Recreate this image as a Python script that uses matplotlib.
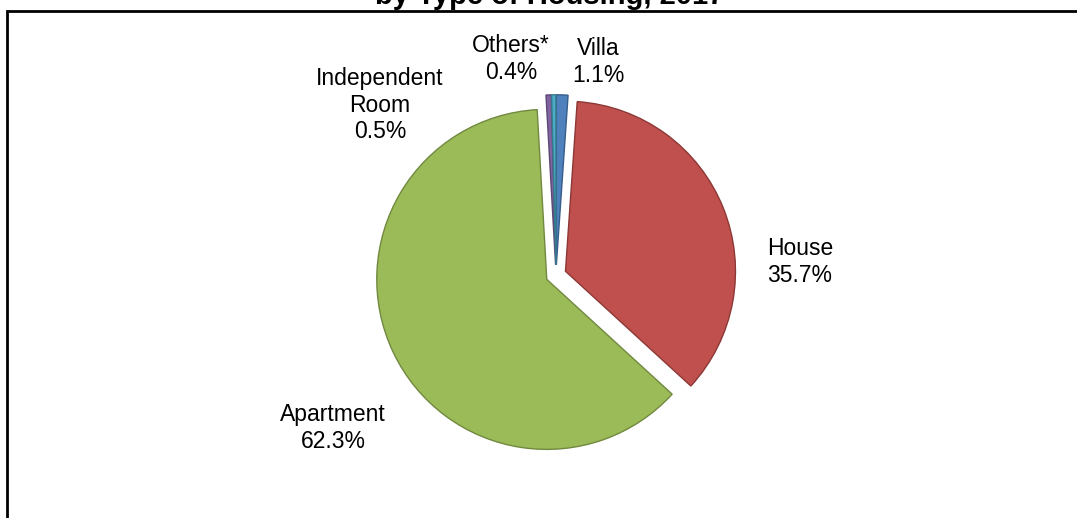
import matplotlib
matplotlib.use('Agg')
import matplotlib.pyplot as plt
from matplotlib.patches import Rectangle

plt.rcParams['font.family'] = ['Liberation Sans', 'DejaVu Sans']

# data, clockwise from 12 o'clock like the Excel original
housing = ['Villa', 'House', 'Apartment', 'Independent\nRoom', 'Others*']
share = [1.1, 35.7, 62.3, 0.5, 0.4]

colors = ['#4F81BD', '#C0504D', '#9BBB59', '#8064A2', '#4BACC6']
edges = ['#385D8A', '#8C3836', '#71893F', '#5C4776', '#357D91']

# label centres in pixels (from top-left), layout only
label_pos = [(598, 62), (800, 262), (333, 428), (380, 105), (511, 59)]

W, H = 1077, 518
fig = plt.figure(figsize=(W / 100, H / 100), dpi=100)
ax = fig.add_axes([0, 0, 1, 1])

cx, cy, R = 556, H - 275, 170
# explode is in data units here (pixels)
wedges, _ = ax.pie(share, colors=colors, startangle=90, counterclock=False,
                   explode=[0.06 * R] * len(share), center=(cx, cy), radius=R,
                   wedgeprops=dict(linewidth=1.0))
for w, ec in zip(wedges, edges):
    w.set_edgecolor(ec)

for name, v, (px, py) in zip(housing, share, label_pos):
    ax.text(px, H - py, f'{name}\n{v:.1f}%', ha='center', va='center',
            fontsize=16.5, linespacing=1.2)

ax.set_xlim(0, W)
ax.set_ylim(0, H)
ax.set_aspect('equal')
ax.axis('off')

# chart border (cut off on right and bottom in the original)
fig.patches.append(Rectangle((7 / W, -0.1), 1.2, (H - 11) / H + 0.1,
                             transform=fig.transFigure, fill=False,
                             edgecolor='black', linewidth=2))

# title, only bottom part visible
fig.text(550 / W, 1 - 4 / H, 'by Type of Housing, 2017', ha='center',
         va='baseline', fontsize=21, fontweight='bold')

fig.savefig('out.png', dpi=100)
